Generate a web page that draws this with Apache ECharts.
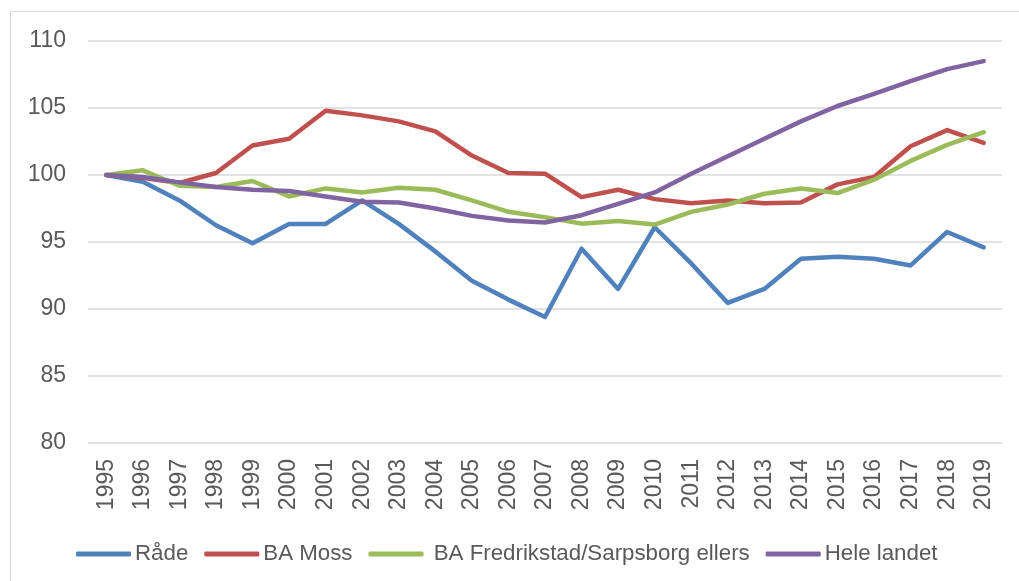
<!DOCTYPE html>
<html>
<head>
<meta charset="utf-8">
<title>Indeks 1995 = 100</title>
<script src="https://cdn.jsdelivr.net/npm/echarts@6/dist/echarts.min.js"></script>
<style>
  html, body { margin: 0; padding: 0; background: #fff; }
  #chart { width: 1019px; height: 581px; }
</style>
</head>
<body>
<div id="chart"></div>
<script>
// data (index, 1995 = 100)
const years = ['1995', '1996', '1997', '1998', '1999', '2000', '2001', '2002', '2003', '2004', '2005', '2006', '2007',
  '2008', '2009', '2010', '2011', '2012', '2013', '2014', '2015', '2016', '2017', '2018', '2019']
const rade = [100, 99.5, 98.1, 96.25, 94.9, 96.35, 96.35, 98.1, 96.35, 94.3, 92.1, 90.7, 89.4,
  94.5, 91.5, 96.1, 93.4, 90.45, 91.5, 93.75, 93.9, 93.75, 93.25, 95.75, 94.6]
const moss = [100, 99.8, 99.4, 100.15, 102.2, 102.7, 104.8, 104.45, 104.0, 103.25, 101.45, 100.15, 100.1,
  98.35, 98.9, 98.2, 97.9, 98.1, 97.9, 97.95, 99.3, 99.85, 102.15, 103.35, 102.4]
const fredrikstad = [100, 100.35, 99.2, 99.1, 99.55, 98.4, 99.0, 98.7, 99.05, 98.9, 98.1, 97.25, 96.85,
  96.37, 96.57, 96.3, 97.25, 97.8, 98.6, 99.0, 98.65, 99.65, 101.05, 102.25, 103.2]
const landet = [100, 99.85, 99.45, 99.1, 98.9, 98.8, 98.4, 98.0, 97.95, 97.5, 96.95, 96.6, 96.45,
  97.0, 97.85, 98.7, 100.1, 101.4, 102.7, 104.0, 105.15, 106.05, 107.0, 107.9, 108.5]
const seriesNames = ['Råde', 'BA Moss', ' BA Fredrikstad/Sarpsborg ellers', 'Hele landet']
const seriesColors = ['#4F81BD', '#C0504D', '#9BBB59', '#8064A2']

const chart = echarts.init(document.getElementById('chart'))

function makeLine (name, data, color) {
  return {
    name: name,
    type: 'line',
    data: data,
    symbol: 'none',
    color: color,
    lineStyle: { width: 4.5, color: color, cap: 'round', join: 'round' }
  }
}

const option = {
  animation: false,
  textStyle: { fontFamily: 'Liberation Sans, Arial, sans-serif' },
  grid: { left: 88, right: 17, top: 41, bottom: 138 },
  graphic: [
    {
      type: 'rect',
      shape: { x: 10.5, y: 11.5, width: 1100, height: 700 },
      style: { fill: 'none', stroke: '#d9d9d9', lineWidth: 1 },
      silent: true
    }
  ],
  legend: {
    left: 71,
    top: 538,
    icon: 'roundRect',
    itemWidth: 55,
    itemHeight: 5,
    itemGap: 16,
    textStyle: { fontSize: 22.3, color: '#595959', padding: [0, 0, 0, -1] },
    data: seriesNames
  },
  xAxis: {
    type: 'category',
    data: years,
    boundaryGap: true,
    axisLine: { show: false },
    axisTick: { show: false },
    axisLabel: { rotate: 90, interval: 0, fontSize: 23, color: '#595959', margin: 16 }
  },
  yAxis: {
    type: 'value',
    min: 80,
    max: 110,
    interval: 5,
    axisLine: { show: false },
    axisTick: { show: false },
    axisLabel: { fontSize: 23, color: '#595959', margin: 22 },
    splitLine: { lineStyle: { color: '#d9d9d9', width: 1.5 } }
  },
  series: [
    makeLine(seriesNames[0], rade, seriesColors[0]),
    makeLine(seriesNames[1], moss, seriesColors[1]),
    makeLine(seriesNames[2], fredrikstad, seriesColors[2]),
    makeLine(seriesNames[3], landet, seriesColors[3])
  ]
}

chart.setOption(option)
</script>
</body>
</html>
